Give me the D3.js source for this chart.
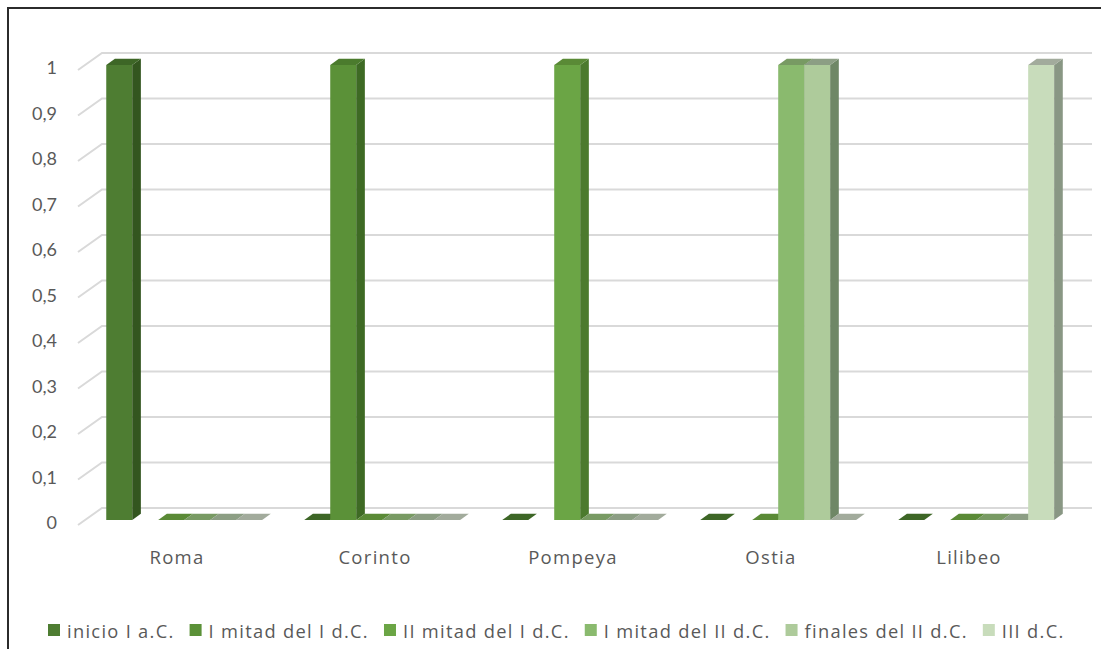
<!DOCTYPE html>
<html>
<head>
<meta charset="utf-8">
<script src="https://cdn.jsdelivr.net/npm/d3@7"></script>
<style>
  html, body { margin: 0; padding: 0; background: #fff; }
  svg { display: block; }
  text { font-family: Lato, "Open Sans", sans-serif; fill: #595959; }
  .wide { font-family: "Open Sans", Lato, sans-serif; letter-spacing: 1.3px; }
</style>
</head>
<body>
<svg id="chart" width="1101" height="649"></svg>
<script>
// Sites and periods
const categories = ["Roma", "Corinto", "Pompeya", "Ostia", "Lilibeo"];
const seriesNames = ["inicio I a.C.", "I mitad del I d.C.", "II mitad del I d.C.",
                     "I mitad del II d.C.", "finales del II d.C.", "III d.C."];

// Values per period, one entry per site (null = no value)
const inicioIaC      = [1, 0, 0, 0, 0];
const iMitadIdC      = [null, 1, null, null, null];
const iiMitadIdC     = [0, 0, 1, 0, 0];
const iMitadIIdC     = [0, 0, 0, 1, 0];
const finalesIIdC    = [0, 0, 0, 1, 0];
const iiidC          = [0, 0, 0, 0, 1];
const seriesValues = [inicioIaC, iMitadIdC, iiMitadIdC, iMitadIIdC, finalesIIdC, iiidC];

const yTicks = [0, 0.1, 0.2, 0.3, 0.4, 0.5, 0.6, 0.7, 0.8, 0.9, 1];
const yTickLabels = ["0", "0,1", "0,2", "0,3", "0,4", "0,5", "0,6", "0,7", "0,8", "0,9", "1"];

// Face colours per series
const frontColors = ["#4e7d32", "#5b9138", "#6ba545", "#8aba6e", "#aecb9b", "#c8dcbb"];
const topColors   = ["#3d6626", "#4b7b2d", "#5a8a36", "#789a63", "#8c9e84", "#a2ab9c"];
const sideColors  = ["#33561f", "#3e6a24", "#4c7a2e", "#66875a", "#6f8766", "#899784"];

const svg = d3.select("#chart");

// frame
svg.append("path")
  .attr("d", "M8,649 L8,8 L1101,8")
  .attr("fill", "none").attr("stroke", "#2b2b2b").attr("stroke-width", 2);

// front plane of the plot box, with a depth offset to the back wall
const x0 = d3.scaleBand().domain(categories).range([78, 1068]).paddingInner(0).paddingOuter(0);
const x1 = d3.scaleBand().domain(d3.range(seriesNames.length))
  .range([0, x0.bandwidth()]).paddingInner(0).paddingOuter(0.81);
const y = d3.scaleLinear().domain([0, 1]).range([525, 70]);

const DX = 24, DY = -17;          // full depth offset
const proj = (px, py, d) => [px + DX * d, py + DY * d];
const barFront = 0.3, barBack = 0.66;

// gridlines: side wall diagonal + back wall
const grid = svg.append("g").attr("stroke", "#d9d9d9").attr("stroke-width", 2).attr("fill", "none");
yTicks.forEach(v => {
  const a = proj(x0.range()[0], y(v), 0);
  const b = proj(x0.range()[0], y(v), 1);
  const c = proj(x0.range()[1], y(v), 1);
  grid.append("path").attr("d", `M${a}L${b}L${c}`);
});

// y tick labels
svg.append("g").selectAll("text").data(yTicks).join("text")
  .attr("x", 57).attr("y", d => y(d) - 3)
  .attr("text-anchor", "end").attr("dominant-baseline", "central")
  .attr("font-size", 18)
  .text((d, i) => yTickLabels[i]);

// bars
const bars = svg.append("g");
const poly = pts => "M" + pts.map(p => p.join(",")).join("L") + "Z";
categories.forEach((cat, ci) => {
  seriesValues.forEach((vals, si) => {
    const v = vals[ci];
    if (v === null || v === undefined) return;
    const xl = x0(cat) + x1(si);
    const xr = xl + x1.bandwidth();
    const yb = y(0), yt = y(v);
    const fl = proj(xl, yt, barFront), fr = proj(xr, yt, barFront);
    const bl = proj(xl, yt, barBack),  br = proj(xr, yt, barBack);
    const frb = proj(xr, yb, barFront), brb = proj(xr, yb, barBack);
    if (v > 0) {
      const flb = proj(xl, yb, barFront);
      bars.append("path").attr("d", poly([flb, fl, fr, frb])).attr("fill", frontColors[si]);
      bars.append("path").attr("d", poly([frb, fr, br, brb])).attr("fill", sideColors[si]);
    }
    bars.append("path").attr("d", poly([fl, fr, br, bl])).attr("fill", topColors[si]);
  });
});

// category labels
svg.append("g").selectAll("text").data(categories).join("text")
  .attr("class", "wide")
  .attr("x", d => x0(d) + x0.bandwidth() / 2)
  .attr("y", 556)
  .attr("text-anchor", "middle").attr("dominant-baseline", "central")
  .attr("font-size", 18.5)
  .text(d => d);

// legend
const legend = svg.append("g");
let lx = 48;
seriesNames.forEach((name, i) => {
  legend.append("rect").attr("x", lx).attr("y", 624).attr("width", 12).attr("height", 12)
    .attr("fill", frontColors[i]);
  const t = legend.append("text").attr("class", "wide").attr("x", lx + 19).attr("y", 630)
    .attr("dominant-baseline", "central").attr("font-size", 18.3).text(name);
  lx += 19 + t.node().getComputedTextLength() + 15;
});
</script>
</body>
</html>
